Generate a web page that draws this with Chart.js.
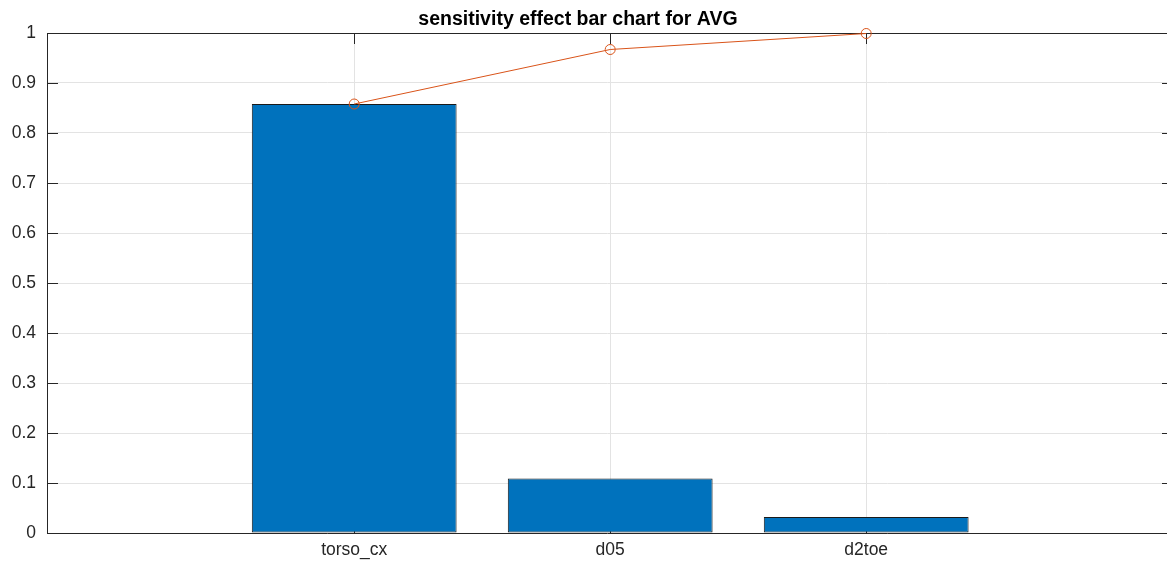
<!DOCTYPE html>
<html>
<head>
<meta charset="utf-8">
<script src="https://cdn.jsdelivr.net/npm/chart.js@4"></script>
<style>
  html, body { margin: 0; padding: 0; background: #fff; }
  #wrap { width: 1167px; height: 561px; }
</style>
</head>
<body>
<div id="wrap"><canvas id="myChart"></canvas></div>
<script>
// values
const categories = ['torso_cx', 'd05', 'd2toe'];
const effectValues = [0.858, 0.109, 0.032];
const cumulativeValues = [0.858, 0.967, 0.999];
const yTicks = [0, 0.1, 0.2, 0.3, 0.4, 0.5, 0.6, 0.7, 0.8, 0.9, 1];
const chartTitle = 'sensitivity effect bar chart for AVG';

const AXIS_COLOR = '#262626';
const GRID_COLOR = '#e3e3e3';
const FONT = '"Liberation Sans", Arial, sans-serif';

// matlab style box: top line and inward tick marks
const boxPlugin = {
  id: 'box',
  beforeDatasetsDraw(chart) {
    const ctx = chart.ctx;
    const a = chart.chartArea;
    const xs = chart.scales.x, ys = chart.scales.y;
    ctx.save();
    ctx.strokeStyle = AXIS_COLOR;
    ctx.lineWidth = 1;
    ctx.beginPath();
    ctx.moveTo(a.left, a.top + 0.5);
    ctx.lineTo(a.right, a.top + 0.5);
    categories.forEach((c, i) => {
      const px = Math.round(xs.getPixelForValue(i + 1)) + 0.5;
      ctx.moveTo(px, a.top);
      ctx.lineTo(px, a.top + 11);
      ctx.moveTo(px, a.bottom);
      ctx.lineTo(px, a.bottom - 11);
    });
    yTicks.forEach(v => {
      const py = Math.round(ys.getPixelForValue(v)) + 0.5;
      ctx.moveTo(a.left, py);
      ctx.lineTo(a.left + 11, py);
      ctx.moveTo(a.right, py);
      ctx.lineTo(a.right - 5, py);
    });
    ctx.stroke();
    ctx.restore();
  },
  afterDraw(chart) {
    const ctx = chart.ctx;
    ctx.save();
    ctx.fillStyle = '#000';
    ctx.font = 'bold 19.5px ' + FONT;
    ctx.textAlign = 'center';
    ctx.textBaseline = 'alphabetic';
    ctx.fillText(chartTitle, 578, 25);
    ctx.restore();
  }
};

const config = {
  data: {
    datasets: [
      {
        type: 'line',
        data: cumulativeValues.map((v, i) => ({x: i + 1, y: v})),
        borderColor: '#D95319',
        borderWidth: 1,
        pointStyle: 'circle',
        pointRadius: 5,
        pointBorderWidth: 1,
        pointBorderColor: '#D95319',
        pointBackgroundColor: 'rgba(0,0,0,0)',
        clip: false,
        order: 0
      },
      {
        type: 'bar',
        data: effectValues.map((v, i) => ({x: i + 1, y: v})),
        backgroundColor: '#0072BD',
        borderColor: '#1a1a1a',
        borderWidth: 1,
        borderSkipped: false,
        barPercentage: 0.8,
        categoryPercentage: 1,
        order: 1
      }
    ]
  },
  options: {
    responsive: true,
    maintainAspectRatio: false,
    animation: false,
    layout: {autoPadding: false, padding: {top: 33, right: 0, left: 0, bottom: 0}},
    plugins: {
      legend: {display: false},
      tooltip: {enabled: false},
      title: {display: false}
    },
    scales: {
      x: {
        type: 'linear',
        min: -0.2,
        max: 4.175,
        offset: false,
        afterBuildTicks: s => { s.ticks = categories.map((c, i) => ({value: i + 1})); },
        afterFit: s => { s.height = 28; },
        ticks: {
          callback: v => categories[v - 1],
          color: AXIS_COLOR,
          font: {family: FONT, size: 17.5},
          padding: 7,
          maxRotation: 0,
          autoSkip: false
        },
        grid: {color: GRID_COLOR, drawTicks: false, offset: false},
        border: {color: AXIS_COLOR}
      },
      y: {
        min: 0,
        max: 1,
        afterBuildTicks: s => { s.ticks = yTicks.map(v => ({value: v})); },
        afterFit: s => { s.width = 47; },
        ticks: {
          callback: v => String(Math.round(v * 10) / 10),
          color: AXIS_COLOR,
          font: {family: FONT, size: 17.5},
          padding: 11
        },
        grid: {color: GRID_COLOR, drawTicks: false},
        border: {color: AXIS_COLOR}
      }
    }
  },
  plugins: [boxPlugin]
};

var ctx = document.getElementById('myChart').getContext('2d');
var myChart = new Chart(ctx, config);
</script>
</body>
</html>
